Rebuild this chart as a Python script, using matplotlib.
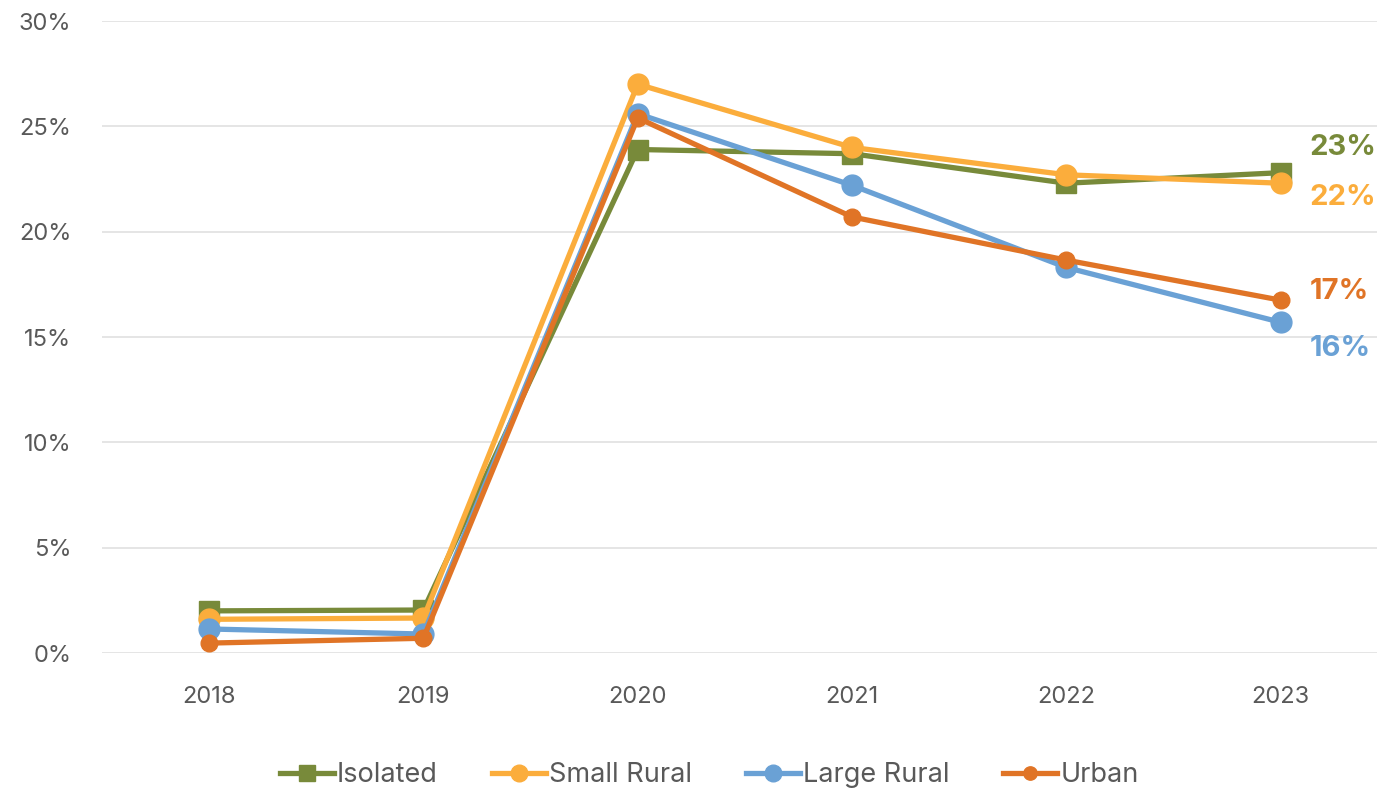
import numpy as np
import matplotlib.pyplot as plt
from matplotlib.ticker import FuncFormatter

plt.rcParams['font.family'] = ['Inter', 'DejaVu Sans']

years = ["2018", "2019", "2020", "2021", "2022", "2023"]
isolated = [2.0, 2.04, 23.9, 23.7, 22.3, 22.8]
small_rural = [1.6, 1.66, 27.0, 24.0, 22.7, 22.3]
large_rural = [1.14, 0.9, 25.6, 22.2, 18.3, 15.7]
urban = [0.47, 0.7, 25.4, 20.7, 18.65, 16.75]

end_labels = ["23%", "22%", "16%", "17%"]

series = [
    ("Isolated", isolated, "#788a3a", "s", 14),
    ("Small Rural", small_rural, "#fbad3c", "o", 15),
    ("Large Rural", large_rural, "#6aa1d5", "o", 15),
    ("Urban", urban, "#e07426", "o", 12),
]
label_offsets = [18, -10, -19, 6]  # points, vertical nudge for end labels

fig = plt.figure(figsize=(13.77, 7.93), dpi=100)
ax = fig.add_axes([102 / 1377, 1 - 653 / 793, 1 - 102 / 1377, (653 - 21) / 793])

x = np.arange(len(years))
for (name, vals, col, mk, ms), lab, dy in zip(series, end_labels, label_offsets):
    ax.plot(x, vals, color=col, lw=3.8, marker=mk, ms=ms, label=name,
            solid_joinstyle="round", clip_on=False)
    ax.annotate(lab, (x[-1], vals[-1]), xytext=(21, dy), textcoords="offset points",
                color=col, fontsize=21, fontweight="bold", va="center", ha="left")

ax.set_xlim(-0.5, 5.45)
ax.set_ylim(0, 30)
ax.set_yticks(np.arange(0, 31, 5))
ax.yaxis.set_major_formatter(FuncFormatter(lambda v, p: f"{v:.0f}%"))
ax.set_xticks(x)
ax.set_xticklabels(years)
ax.tick_params(length=0, labelsize=17, labelcolor="#595959", pad=22)
ax.tick_params(axis="x", pad=24)
ax.grid(axis="y", color="#e3e3e3", lw=1.3)
ax.set_axisbelow(True)
for s in ax.spines.values():
    s.set_visible(False)

leg = fig.legend(loc="center", ncol=4, frameon=False, fontsize=19.5,
                 bbox_to_anchor=(0.515, 1 - 775 / 793), handlelength=2.0, handletextpad=0.1,
                 columnspacing=2.0, markerscale=0.8)
for t in leg.get_texts():
    t.set_color("#595959")

fig.savefig("out.png", dpi=100)
